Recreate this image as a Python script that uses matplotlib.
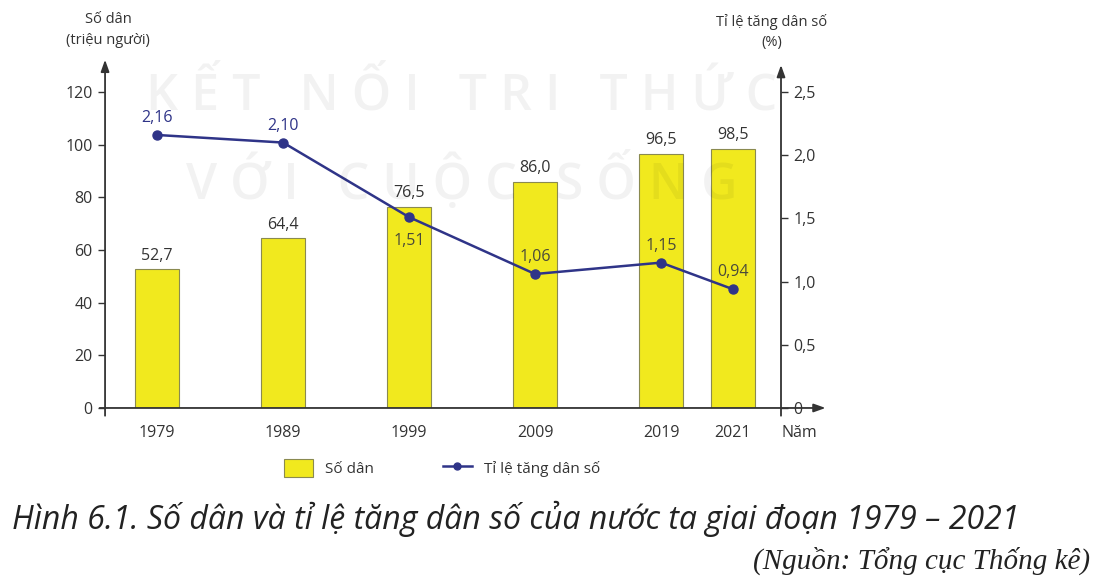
import matplotlib
matplotlib.use("Agg")
import matplotlib.pyplot as plt
from matplotlib.patches import Patch
from matplotlib.lines import Line2D

# dữ liệu
years = ["1979", "1989", "1999", "2009", "2019", "2021"]
population = [52.7, 64.4, 76.5, 86.0, 96.5, 98.5]
growth = [2.16, 2.10, 1.51, 1.06, 1.15, 0.94]
left_ticks = [0, 20, 40, 60, 80, 100, 120]
right_ticks = [0, 0.5, 1.0, 1.5, 2.0, 2.5]

# layout (vị trí cột trên trục x, 2021 đặt gần 2019)
x_pos = [0, 1, 2, 3, 4, 4.57]
growth_lbl_dy = [9, 9, -24, 9, 9, 9]   # px offset of line labels

bar_col = "#f1e91e"
bar_edge = "#8a8a50"
line_col = "#2f3488"
txt_col = "#333333"
fs = 11.5
font = "Open Sans"
plt.rcParams["font.family"] = [font, "DejaVu Sans"]

fig = plt.figure(figsize=(11, 5.85), dpi=100)
ax = fig.add_axes([0.0955, 0.3026, 0.6145, 0.60])
ax.patch.set_visible(False)
ax2 = ax.twinx()

ax.bar(x_pos, population, width=0.35, color=bar_col, edgecolor=bar_edge,
       linewidth=0.8, zorder=2)
for x, v in zip(x_pos, population):
    ax.annotate(f"{v:.1f}".replace(".", ","), (x, v), xytext=(0, 4),
                textcoords="offset points", ha="center", va="bottom",
                fontsize=fs, color=txt_col)

ax2.plot(x_pos, growth, color=line_col, lw=1.8, marker="o", ms=6.5, zorder=3)
for x, v, dy in zip(x_pos, growth, growth_lbl_dy):
    ax2.annotate(f"{v:.2f}".replace(".", ","), (x, v), xytext=(0, dy),
                 textcoords="offset pixels", ha="center",
                 va="bottom" if dy > 0 else "center",
                 fontsize=fs, color=line_col if v > 2 else "#4a4a3a")

ax.set_xlim(-0.413, 4.952)
ax.set_ylim(0, 133.3)
ax2.set_ylim(0, 133.3 / 48)

for a in (ax, ax2):
    for s in a.spines.values():
        s.set_visible(False)

ax.set_yticks(left_ticks)
ax.set_yticklabels([str(t) for t in left_ticks], fontsize=fs, color=txt_col)
ax.tick_params(axis="y", direction="out", length=5, width=1, color="#333333", pad=4)
ax2.set_yticks(right_ticks)
ax2.set_yticklabels([f"{t:.1f}".replace(".", ",") if t else "0" for t in right_ticks],
                    fontsize=fs, color=txt_col)
ax2.tick_params(axis="y", direction="out", length=5, width=1, color="#333333", pad=4)
ax.set_xticks(x_pos)
ax.set_xticklabels(years, fontsize=fs, color=txt_col)
ax.tick_params(axis="x", length=0, pad=12)

# trục có mũi tên
arrow = dict(arrowstyle="-|>,head_length=0.7,head_width=0.25", color="#333333", lw=1.3)
ax.annotate("", xy=(0, 1.0), xytext=(0, -0.03), xycoords="axes fraction",
            arrowprops=arrow)
ax.annotate("", xy=(1, 0.985), xytext=(1, -0.03), xycoords="axes fraction",
            arrowprops=arrow)
ax.annotate("", xy=(1.07, 0), xytext=(-0.012, 0), xycoords="axes fraction",
            arrowprops=arrow)

# watermark mờ
fig.text(0.42, 0.835, "K Ế T   N Ố I   T R I   T H Ứ C", ha="center", va="center",
         fontsize=36, fontweight="semibold", color="black", alpha=0.05, zorder=10)
fig.text(0.42, 0.69, "V Ớ I   C U Ộ C   S Ố N G", ha="center", va="center",
         fontsize=36, fontweight="semibold", color="black", alpha=0.05, zorder=10)

fig.text(108 / 1100, 1 - 30 / 585, "Số dân\n(triệu người)", ha="center", va="center",
         fontsize=10.5, color=txt_col, linespacing=1.5)
fig.text(772 / 1100, 1 - 32 / 585, "Tỉ lệ tăng dân số\n(%)", ha="center", va="center",
         fontsize=10.5, color=txt_col, linespacing=1.5)
fig.text(799 / 1100, 1 - 433 / 585, "Năm", ha="center", va="center",
         fontsize=fs, color=txt_col)

handles = [Patch(facecolor=bar_col, edgecolor=bar_edge, linewidth=0.8),
           Line2D([], [], color=line_col, lw=1.8, marker="o", ms=5)]
fig.legend(handles, ["Số dân", "Tỉ lệ tăng dân số"], loc="center",
           bbox_to_anchor=(442 / 1100, 1 - 468 / 585), ncol=2, frameon=False,
           fontsize=11, handlelength=1.9, handleheight=1.45, columnspacing=4.5,
           labelcolor=txt_col)

fig.text(12 / 1100, 1 - 519 / 585,
         "Hình 6.1. Số dân và tỉ lệ tăng dân số của nước ta giai đoạn 1979 – 2021",
         ha="left", va="center", fontsize=23, style="italic", color="#222222")
fig.text(1090 / 1100, 1 - 561 / 585, "(Nguồn: Tổng cục Thống kê)", ha="right",
         va="center", fontsize=21, style="italic", family="Liberation Serif",
         color="#222222")

fig.savefig("out.png", dpi=100)
